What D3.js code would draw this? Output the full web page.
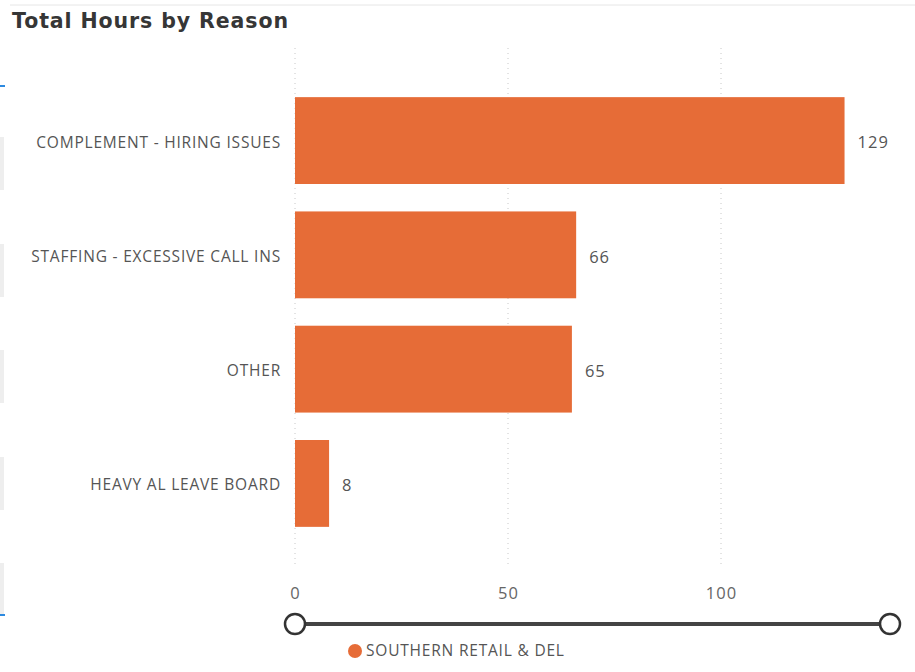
<!DOCTYPE html>
<html>
<head>
<meta charset="utf-8">
<script src="https://cdn.jsdelivr.net/npm/d3@7"></script>
<style>
  body { margin: 0; background: #fff; }
  svg { display: block; }
</style>
</head>
<body>
<div id="chart"></div>
<script>
// data
const reasons = ["COMPLEMENT - HIRING ISSUES", "STAFFING - EXCESSIVE CALL INS", "OTHER", "HEAVY AL LEAVE BOARD"]
const hours = [129, 66, 65, 8]
const xTicks = [0, 50, 100]
const seriesName = "SOUTHERN RETAIL & DEL"

const W = 915, H = 672
const orange = '#E66C37'
const font = "'Open Sans', sans-serif"

const svg = d3.select('#chart')
    .append('svg')
    .attr('width', W)
    .attr('height', H)

// top border line
svg.append('line')
    .attr('x1', 10).attr('x2', W)
    .attr('y1', 5).attr('y2', 5)
    .attr('stroke', '#e6e6e6')

// cut-off panels on the left edge
const sideRows = [137, 244, 350, 457, 563]
sideRows.forEach(y => {
    svg.append('rect')
        .attr('x', 0).attr('y', y)
        .attr('width', 4).attr('height', 53)
        .attr('fill', '#eeeeee')
})
svg.append('rect').attr('x', 0).attr('y', 85).attr('width', 5).attr('height', 2).attr('fill', '#2d8ae0')
svg.append('rect').attr('x', 0).attr('y', 614).attr('width', 5).attr('height', 2).attr('fill', '#2d8ae0')

// title
svg.append('text')
    .attr('x', 12)
    .attr('y', 28)
    .attr('font-family', "'DejaVu Sans', sans-serif")
    .attr('font-weight', 'bold')
    .attr('font-size', 20.5)
    .attr('letter-spacing', 0.9)
    .attr('fill', '#363636')
    .text('Total Hours by Reason')

const x = d3.scaleLinear()
    .domain([0, 100])
    .range([295, 721])

const y = d3.scaleBand()
    .domain(reasons)
    .range([40, 584])
    .paddingInner(0.24)
    .paddingOuter(0.5)

// gridlines
svg.append('g')
    .selectAll('line')
    .data(xTicks)
    .join('line')
    .attr('x1', d => x(d)).attr('x2', d => x(d))
    .attr('y1', 48).attr('y2', 568)
    .attr('stroke', '#c8c8c8')
    .attr('stroke-width', 1)
    .attr('stroke-dasharray', '1,4')

// x axis labels
const xAxis = svg.append('g')
    .attr('transform', 'translate(0,587)')
    .call(d3.axisBottom(x).tickValues(xTicks).tickSize(0).tickPadding(0))
xAxis.select('.domain').remove()
xAxis.selectAll('text')
    .attr('font-family', font)
    .attr('font-size', 16.5)
    .attr('letter-spacing', 1)
    .attr('fill', '#666')

// y axis labels
const yAxis = svg.append('g')
    .attr('transform', 'translate(281,2)')
    .call(d3.axisLeft(y).tickSize(0).tickPadding(0))
yAxis.select('.domain').remove()
yAxis.selectAll('text')
    .attr('font-family', font)
    .attr('font-size', 15.5)
    .attr('letter-spacing', 0.8)
    .attr('fill', '#555')

// bars
svg.append('g')
    .selectAll('rect')
    .data(reasons)
    .join('rect')
    .attr('x', x(0))
    .attr('y', d => y(d))
    .attr('width', (d, i) => x(hours[i]) - x(0))
    .attr('height', y.bandwidth())
    .attr('fill', orange)

// value labels
svg.append('g')
    .selectAll('text')
    .data(reasons)
    .join('text')
    .attr('x', (d, i) => x(hours[i]) + 13)
    .attr('y', d => y(d) + y.bandwidth() / 2 + 2)
    .attr('dy', '0.35em')
    .attr('font-family', font)
    .attr('font-size', 16.5)
    .attr('letter-spacing', 1)
    .attr('fill', '#555')
    .text((d, i) => hours[i])

// zoom slider
svg.append('line')
    .attr('x1', 295).attr('x2', 890)
    .attr('y1', 624).attr('y2', 624)
    .attr('stroke', '#444')
    .attr('stroke-width', 4)
;[295, 890].forEach(cx => {
    svg.append('circle')
        .attr('cx', cx).attr('cy', 624)
        .attr('r', 10)
        .attr('fill', '#fff')
        .attr('stroke', '#333')
        .attr('stroke-width', 2.5)
})

// legend
svg.append('circle')
    .attr('cx', 355).attr('cy', 651)
    .attr('r', 7)
    .attr('fill', orange)
svg.append('text')
    .attr('x', 366).attr('y', 651)
    .attr('dy', '0.35em')
    .attr('font-family', font)
    .attr('font-size', 15.5)
    .attr('letter-spacing', 0.8)
    .attr('fill', '#555')
    .text(seriesName)
</script>
</body>
</html>
